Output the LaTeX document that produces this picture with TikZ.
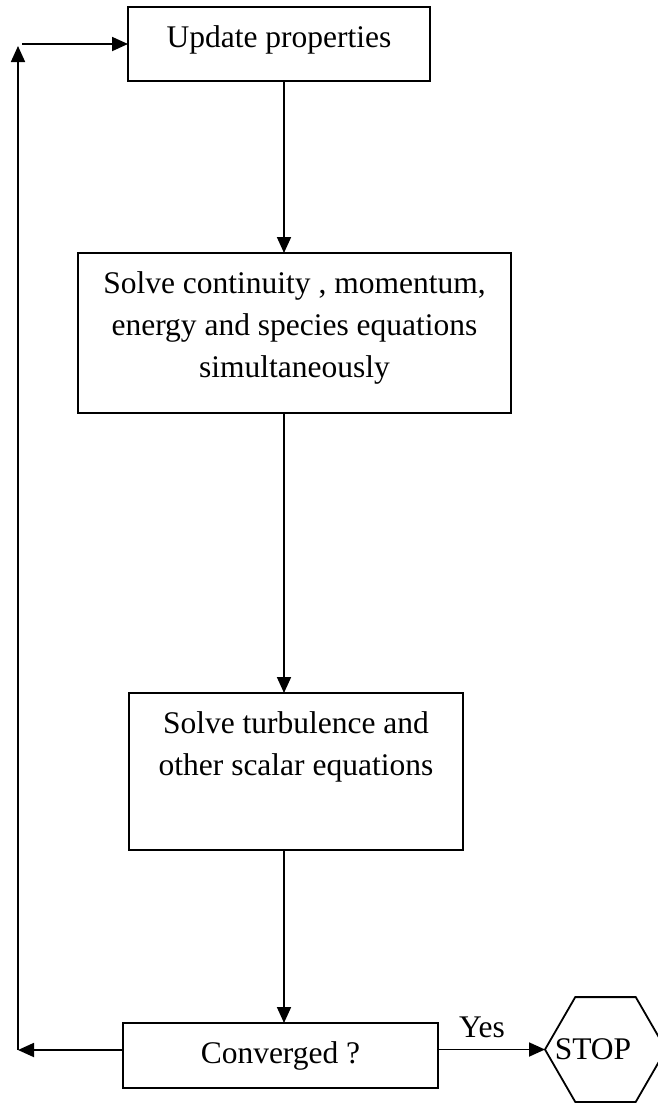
\documentclass[tikz,border=0pt]{standalone}
\usepackage{fontspec}
\setmainfont{Liberation Serif}
\usetikzlibrary{arrows.meta,shapes.geometric}
\newcommand{\bxt}[3]{\parbox[c][#2][t]{#1}{\centering\rule{0pt}{40pt}#3}}
\begin{document}
\begin{tikzpicture}[x=1pt,y=-1pt,
  every node/.style={font=\fontsize{31.5}{42}\selectfont},
  box/.style={draw,line width=1.8pt,inner sep=0pt,outer sep=0pt},
  hex/.style={draw,line width=1.8pt,regular polygon,regular polygon sides=6,minimum size=121pt,inner sep=0pt,outer sep=0pt},
  arr/.style={line width=1.8pt,-{Triangle[length=16pt,width=14pt]}}]
\useasboundingbox (0,0) rectangle (658,1104);
\node[box] (b1) at (279,44) {\bxt{302pt}{74pt}{Update properties}};
\node[box] (b2) at (294.5,333) {\bxt{433pt}{160pt}{Solve continuity , momentum,\\ energy and species equations\\ simultaneously}};
\node[box] (b3) at (296,771.5) {\bxt{334pt}{157pt}{Solve turbulence and\\ other scalar equations}};
\node[box] (b4) at (280.5,1055.5) {\bxt{315pt}{65pt}{Converged ?}};
\node[hex] (stop) at (605.5,1049.5) {\hspace*{-25pt}\raisebox{-2pt}{STOP}};
\coordinate (xl) at (284,0);
\coordinate (lb) at (18,1050);
\coordinate (lt) at (18,46);
\coordinate (ls) at (22,44);
\draw[arr] (b1.south -| xl) -- (b2.north -| xl);
\draw[arr] (b2.south -| xl) -- (b3.north -| xl);
\draw[arr] (b3.south -| xl) -- (b4.north -| xl);
\draw[arr] (b4.east |- stop.west) -- (stop.west);
\node[anchor=base] (yeslbl) at (482,1037) {Yes};
\draw[arr] (b4.west |- lb) -- (lb);
\draw[arr] (lb) -- (lt);
\draw[arr] (ls) -- (b1.west);
\end{tikzpicture}
\end{document}
